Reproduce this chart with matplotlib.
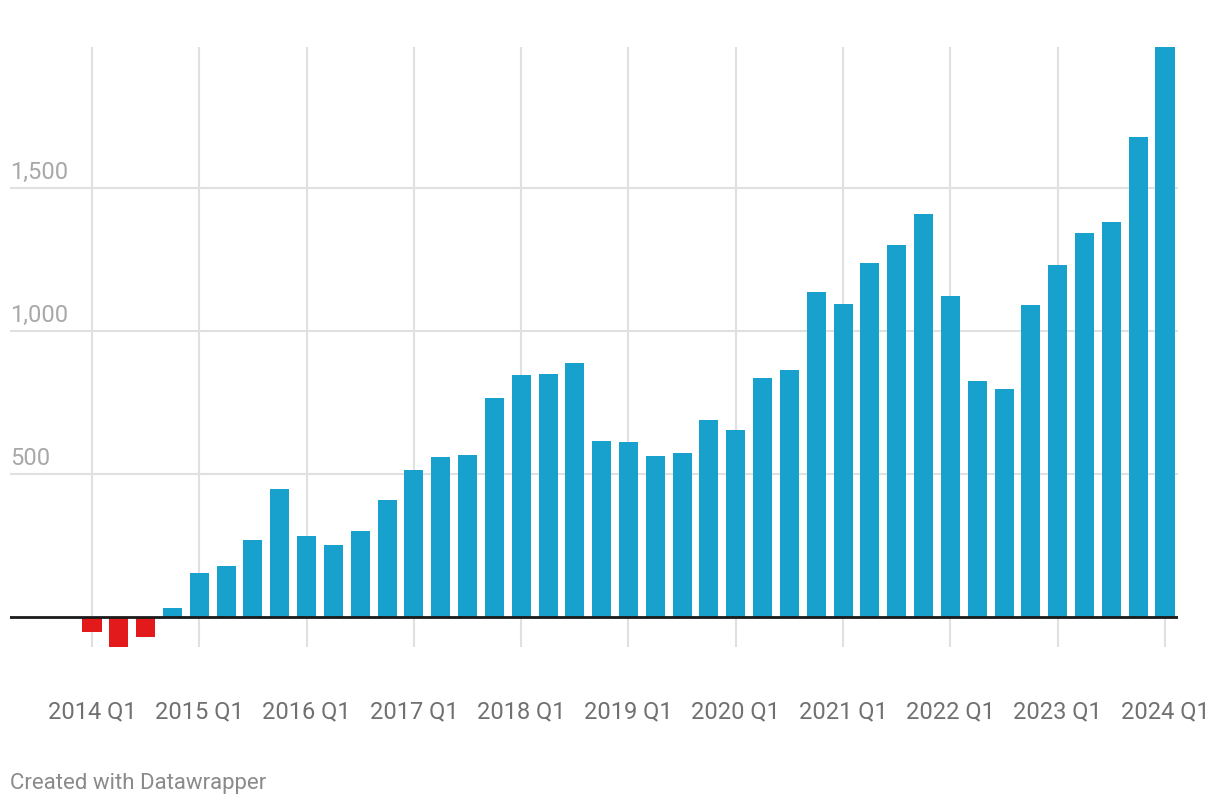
import matplotlib
matplotlib.use("Agg")
import matplotlib.pyplot as plt

years = list(range(2014, 2025))
quarters = [f"{y} Q{q}" for y in range(2014, 2024) for q in range(1, 5)] + ["2024 Q1"]
values = [-52, -108, -70, 31, 154, 178, 269, 448,
          283, 252, 301, 409, 514, 559, 566, 766,
          846, 850, 888, 615, 612, 563, 573, 689,
          654, 836, 864, 1136, 1094, 1238, 1301, 1409,
          1122, 825, 797, 1091, 1231, 1343, 1381, 1678,
          1993]
yticks = [500, 1000, 1500]
ytick_labels = ["500", "1,000", "1,500"]
xtick_labels = [f"{y} Q1" for y in years]

W, H = 1220, 808
fig = plt.figure(figsize=(W / 100, H / 100), dpi=100)
plt.rcParams['font.family'] = ['Roboto', 'DejaVu Sans']

ax_l, ax_r, ax_t, ax_b = 10, 1178, 47, 647
ax = fig.add_axes([ax_l / W, 1 - ax_b / H, (ax_r - ax_l) / W, (ax_b - ax_t) / H])

x = list(range(len(values)))
colors = ["#e31a1c" if v < 0 else "#18a1cd" for v in values]
ax.bar(x, values, width=0.71, color=colors, zorder=2)

pitch = (1165 - 92) / 40
ax.set_xlim((ax_l - 92) / pitch, (ax_r - 92) / pitch)
px_per_unit = 143 / 500
ax.set_ylim(-(ax_b - 617) / px_per_unit, (617 - ax_t) / px_per_unit)

for s in ax.spines.values():
    s.set_visible(False)
ax.set_xticks([])
ax.set_yticks([])

# horizontal gridlines
for t in yticks:
    ax.axhline(t, color="#e0e0e0", lw=1.5, zorder=1)
# vertical gridlines at each Q1
q1_idx = [quarters.index(l) for l in xtick_labels]
for i in q1_idx:
    ax.axvline(i, color="#e0e0e0", lw=1.5, zorder=1)
ax.axhline(0, color="#1a1a1a", lw=2, zorder=3)

# y tick labels above gridlines
for t, lab in zip(yticks, ytick_labels):
    ax.text(0, t + 4 / px_per_unit, lab, transform=ax.get_yaxis_transform(),
            ha="left", va="bottom", fontsize=17, color="#a8a8a8")

# x tick labels
for i, lab in zip(q1_idx, xtick_labels):
    fig.text((ax_l + (i - ax.get_xlim()[0]) * pitch) / W, 1 - 712 / H, lab,
             ha="center", va="center", fontsize=17, color="#707070")

fig.text(10 / W, 1 - 784 / H, "Created with Datawrapper", ha="left", va="center",
         fontsize=16, color="#8a8a8a")

fig.savefig("out.png", dpi=100)
